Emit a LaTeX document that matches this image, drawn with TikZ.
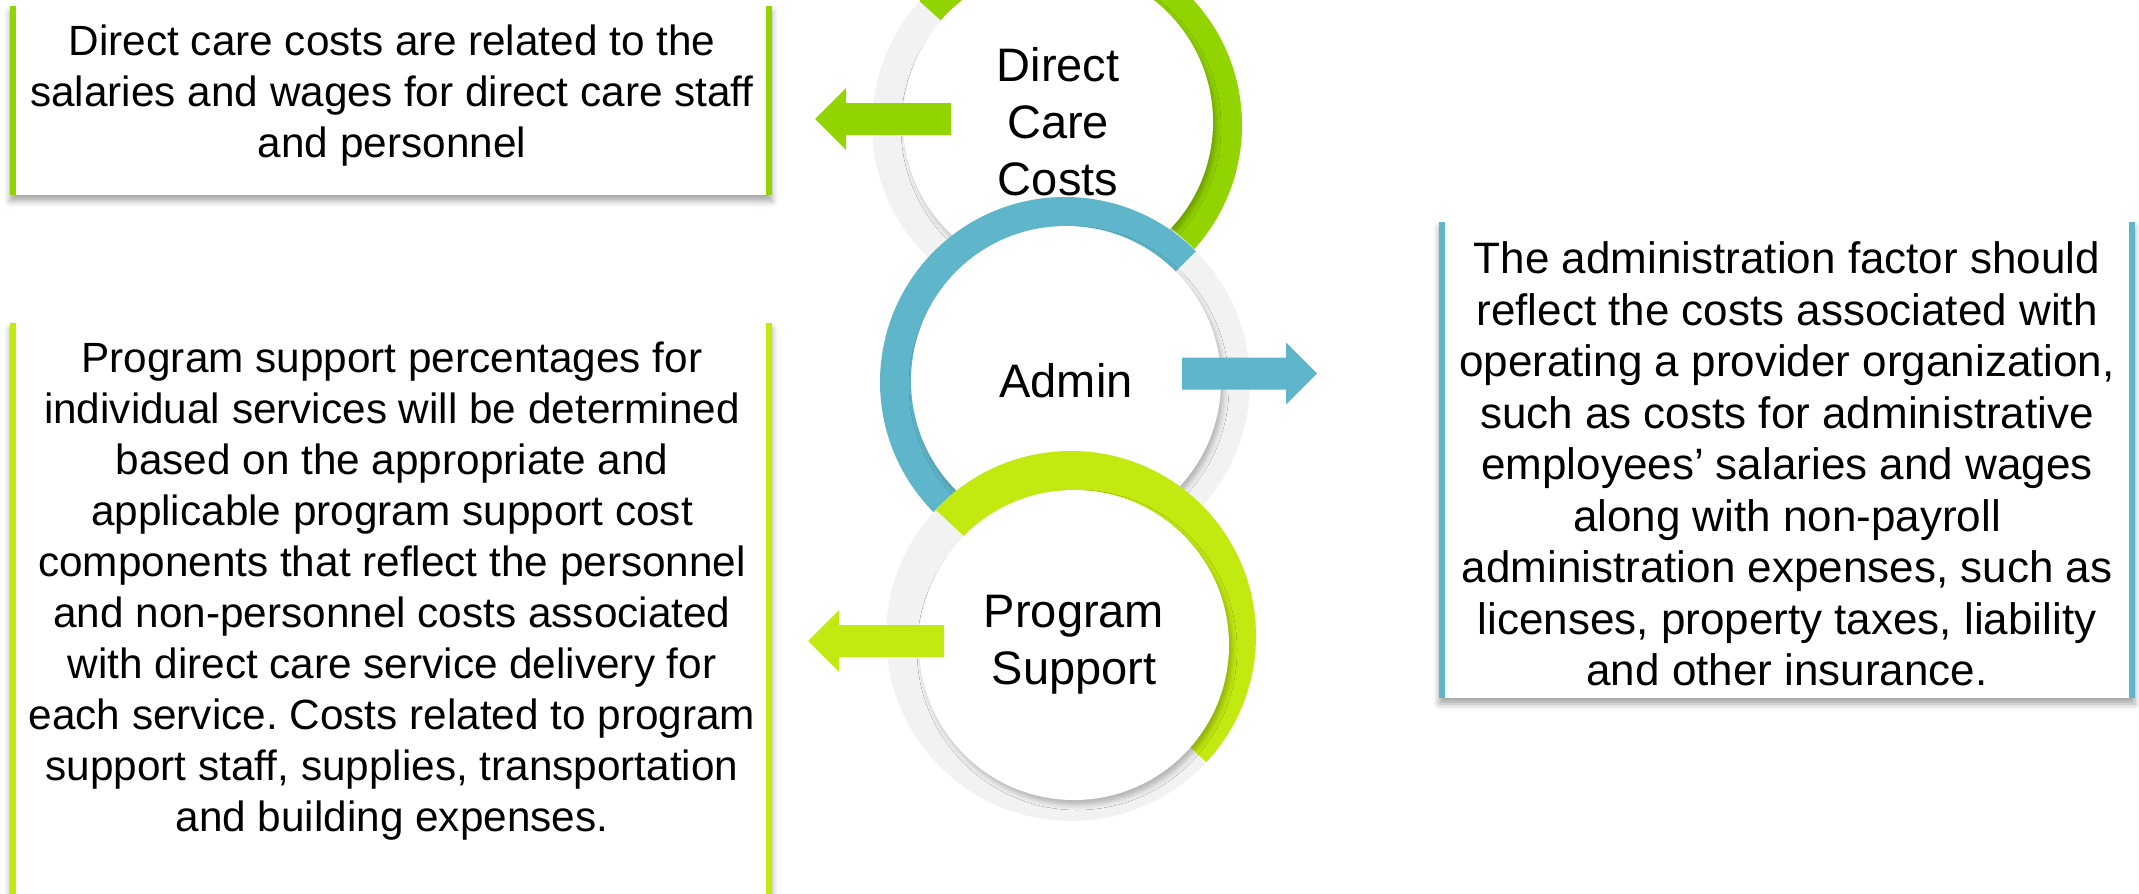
\documentclass[tikz,border=0pt]{standalone}
\usepackage{fontspec}
\setmainfont{Liberation Sans}
\usepackage{tikz}
\usetikzlibrary{calc}
\usetikzlibrary{shadows.blur}
\frenchspacing

\definecolor{dcgreen}{HTML}{92D400}
\definecolor{psgreen}{HTML}{C3EA10}
\definecolor{admblue}{HTML}{5FB6CB}
\definecolor{ringgray}{HTML}{F2F2F2}

% grey ring with a coloured half on top: x, y, colour, start angle, end angle
\newcommand{\halfring}[5]{
  \fill[ringgray] ( #1 , #2 ) circle (185);
  \fill[#3] ( #1 , #2 ) -- ++( #4 :185) arc[start angle=#4, end angle=#5, radius=185] -- cycle;}
% white panel with coloured sides: x1, y1, x2, y2, colour
\newcommand{\panel}[5]{
  \fill[white, blur shadow={shadow xshift=0pt, shadow yshift=-6pt, shadow blur radius=6pt, shadow opacity=35}] ( #1 , #2 ) rectangle ( #3 , #4 );
  \fill[#5] ( #1 , #2 ) rectangle ( #1+6 , #4 );
  \fill[#5] ( #3-6 , #2 ) rectangle ( #3 , #4 );}
% block arrow: colour, tail x, tip x, y, direction (1 right, -1 left)
\newcommand{\blockarrow}[5]{
  \fill[#1] ( #2 , {#4+16} ) -- ( {#3-(#5)*31} , {#4+16} ) -- ( {#3-(#5)*31} , {#4+31} )
    -- ( #3 , #4 ) -- ( {#3-(#5)*31} , {#4-31} ) -- ( {#3-(#5)*31} , {#4-16} ) -- ( #2 , {#4-16} ) -- cycle;}

\tikzset{
  notetext/.style={font=\fontsize{42.3}{51}\selectfont, align=center, inner sep=0pt},
  disc/.style={circle, fill=white, minimum size=310pt, inner sep=0pt, align=center,
    font=\fontsize{47}{57}\selectfont,
    blur shadow={shadow xshift=3pt, shadow yshift=-5pt, shadow blur radius=5pt, shadow opacity=25}}
}

\begin{document}
\begin{tikzpicture}[x=1pt, y=1pt]
    \useasboundingbox (0,0) rectangle (2139,-894);

    % panels
    \panel{10}{-6}{772}{-195}{dcgreen}
    \panel{10}{-323}{772}{-960}{psgreen}
    \panel{1439}{-222}{2135}{-698}{admblue}

    \node[notetext] (dctext) at (392,-96) {Direct care costs are related to the\\
      salaries and wages for direct care staff\\ and personnel};
    \node[notetext] (pstext) at (392,-591) {Program support percentages for\\
      individual services will be determined\\ based on the appropriate and\\
      applicable program support cost\\ components that reflect the personnel\\
      and non-personnel costs associated\\ with direct care service delivery for\\
      each service. Costs related to program\\ support staff, supplies, transportation\\
      and building expenses.};
    \node[notetext, font=\fontsize{44}{51.5}\selectfont] (admtext) at (1787,-464) {The administration factor should\\
      reflect the costs associated with\\ operating a provider organization,\\
      such as costs for administrative\\ employees’ salaries and wages\\
      along with non-payroll\\ administration expenses, such as\\
      licenses, property taxes, liability\\ and other insurance.};

    % circles, top to bottom
    \halfring{1057}{-125}{dcgreen}{138}{-42}
    \node[disc] (dcc) at (1058,-122) {Direct\\ Care\\ Costs};
    \halfring{1065}{-382}{admblue}{45}{225}
    \node[disc] (adm) at (1066,-381) {Admin};
    \halfring{1071}{-636}{psgreen}{137}{-43}
    \node[disc] (ps) at (1074,-645) {Program\\ Support};

    % arrows
    \blockarrow{dcgreen}{951}{815}{-119}{-1}
    \blockarrow{admblue}{1182}{1317}{-373.5}{1}
    \blockarrow{psgreen}{944}{808}{-641}{-1}
\end{tikzpicture}
\end{document}
